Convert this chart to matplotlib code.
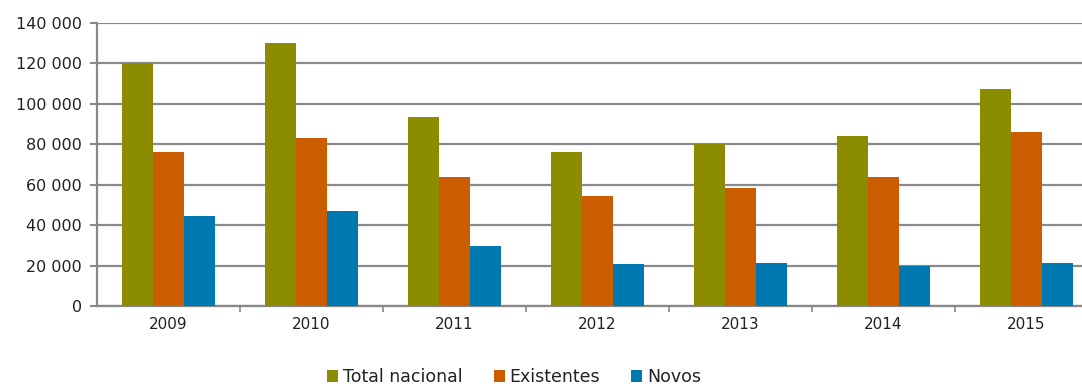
import numpy as np
import matplotlib.pyplot as plt
from matplotlib.ticker import FuncFormatter

years = ['2009', '2010', '2011', '2012', '2013', '2014', '2015']
total_nacional = [120000, 130000, 93500, 76000, 80000, 84000, 107500]
existentes = [76000, 83000, 64000, 54500, 58500, 64000, 86000]
novos = [44500, 47000, 29700, 21000, 21200, 19800, 21300]

series = [
    ('Total nacional', total_nacional, '#8C8C00'),
    ('Existentes', existentes, '#CC5C00'),
    ('Novos', novos, '#0079B0'),
]

plt.rcParams['font.family'] = ['DejaVu Sans']

fig = plt.figure(figsize=(10.82, 3.87), dpi=100)
# plot area runs a little past the right edge of the figure
ax = fig.add_axes([97 / 1082, 1 - 306 / 387, 1001 / 1082, 283 / 387])

x = np.arange(len(years))
w = 0.217
for k, (name, vals, col) in enumerate(series):
    ax.bar(x + (k - 1) * w, vals, w, color=col, label=name, linewidth=0, zorder=3)

ax.set_xlim(-0.5, len(years) - 0.5)
ax.set_ylim(0, 140000)
ax.set_yticks(np.arange(0, 140001, 20000))
ax.yaxis.set_major_formatter(FuncFormatter(lambda v, p: '{:,.0f}'.format(v).replace(',', ' ')))
ax.set_xticks(x)
ax.set_xticklabels(years)
ax.set_xticks(np.arange(0.5, len(years) - 0.5, 1), minor=True)
ax.tick_params(axis='x', which='major', length=0, pad=8, labelsize=11, colors='#222222')
ax.tick_params(axis='x', which='minor', length=4, width=1.2, color='#888888')
ax.tick_params(axis='y', length=5, width=1.5, color='#888888', labelsize=11.5,
               labelcolor='#222222', pad=6)

ax.grid(axis='y', color='#8a8a8a', linewidth=1.6, zorder=0)
for s in ['top', 'right']:
    ax.spines[s].set_visible(False)
for s in ['left', 'bottom']:
    ax.spines[s].set_color('#888888')
    ax.spines[s].set_linewidth(1.6)

fig.legend(loc='center', bbox_to_anchor=(0.475, 0.025), ncol=3, frameon=False,
           fontsize=12.5, handlelength=0.65, handleheight=0.65, handletextpad=0.25,
           columnspacing=1.8, labelcolor='#222222')

fig.savefig('out.png', dpi=100)
